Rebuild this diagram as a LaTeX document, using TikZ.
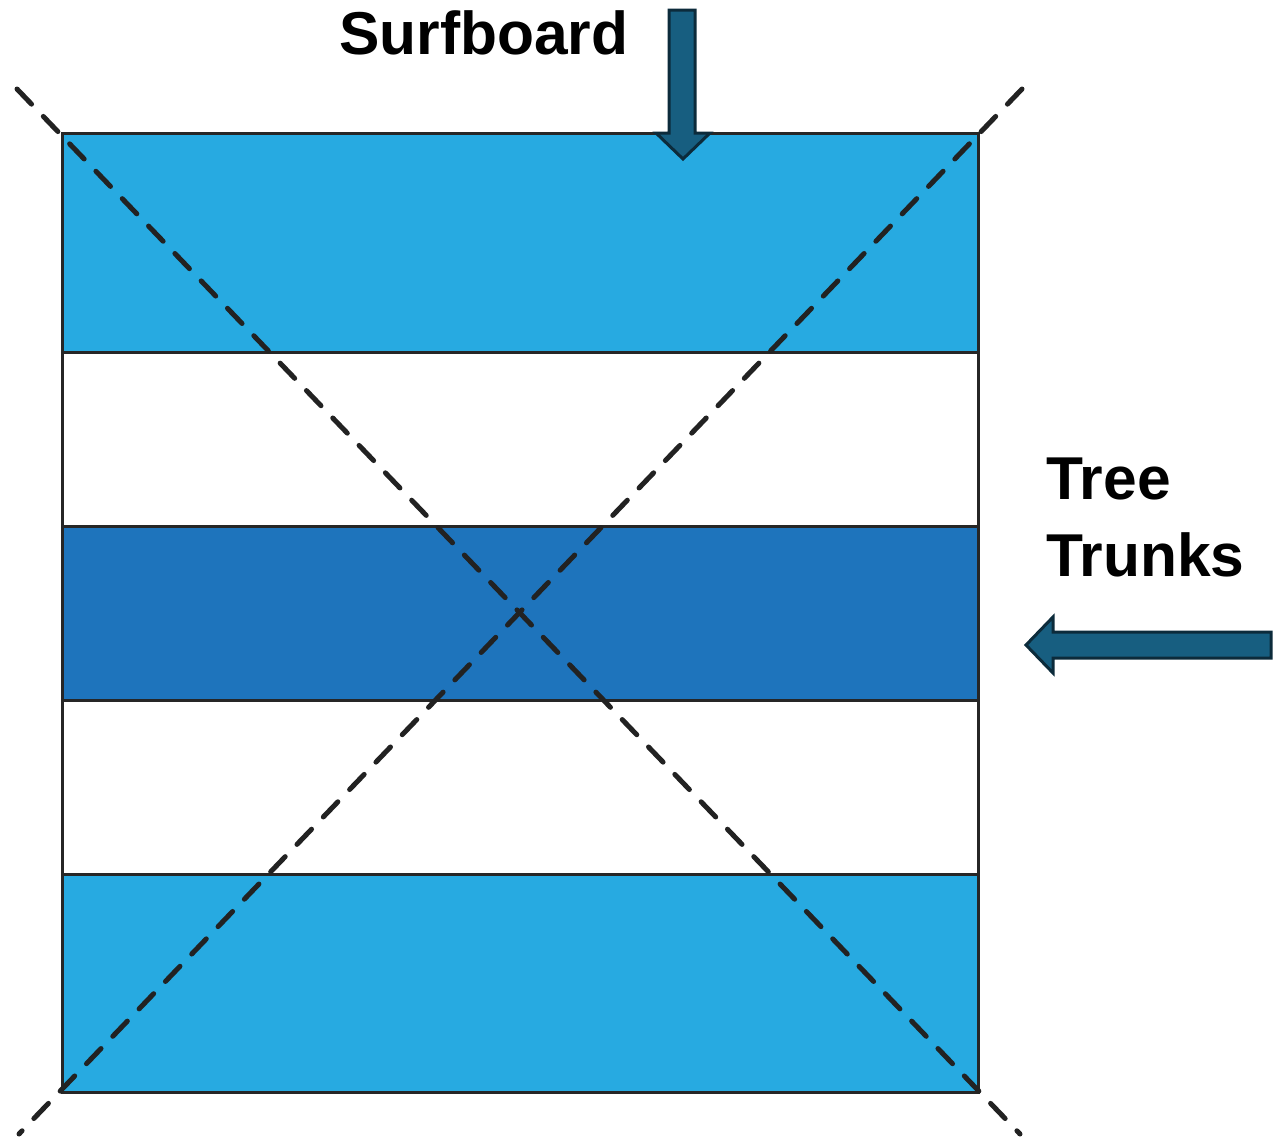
\documentclass[tikz,border=0pt]{standalone}
\usepackage{fontspec}
\setmainfont{Liberation Sans}
\definecolor{lightband}{HTML}{27AAE1}
\definecolor{darkband}{HTML}{1E74BC}
\definecolor{arrowfill}{HTML}{175E80}
\definecolor{arrowline}{HTML}{0C2B3B}
\definecolor{dashcol}{HTML}{222222}
\begin{document}
\begin{tikzpicture}[x=1pt,y=-1pt,
  band/.style={draw=black!85,line width=3pt},
  diag/.style={draw=dashcol,line width=5pt,dash pattern=on 21pt off 17pt,line cap=round},
  bigarrow/.style={fill=arrowfill,draw=arrowline,line width=3pt,line join=miter},
  lbl/.style={font=\bfseries\fontsize{60.5}{77}\selectfont,anchor=base west,inner sep=0pt,align=left}]
\useasboundingbox (0,0) rectangle (1284,1138);
% bands
\path[band,fill=lightband] (62,133) rectangle (978,352);
\path[band,fill=white] (62,352) rectangle (978,526);
\path[band,fill=darkband] (62,526) rectangle (978,700);
\path[band,fill=white] (62,700) rectangle (978,874);
\path[band,fill=lightband] (62,874) rectangle (978,1092);
\draw[band] (62,133) rectangle (978,1092);
% diagonals
\coordinate (d1a) at (17,89);
\coordinate (d1b) at (1020,1134);
\coordinate (d2a) at (1022,89);
\coordinate (d2b) at (19,1134);
\draw[diag] (d1a) -- (d1b);
\draw[diag] (d2a) -- (d2b);
% arrows
\path[bigarrow] (669,10) -- (695,10) -- (695,133) -- (710,133) -- (683,159) -- (656,133) -- (669,133) -- cycle;
\path[bigarrow] (1271,632) -- (1271,658) -- (1053,658) -- (1053,673) -- (1026,645) -- (1053,617) -- (1053,632) -- cycle;
% labels
\node[lbl] (surf) at (339,54) {Surfboard};
\node[lbl] (tree) at (1046,576) {Tree\\Trunks};
\end{tikzpicture}
\end{document}
